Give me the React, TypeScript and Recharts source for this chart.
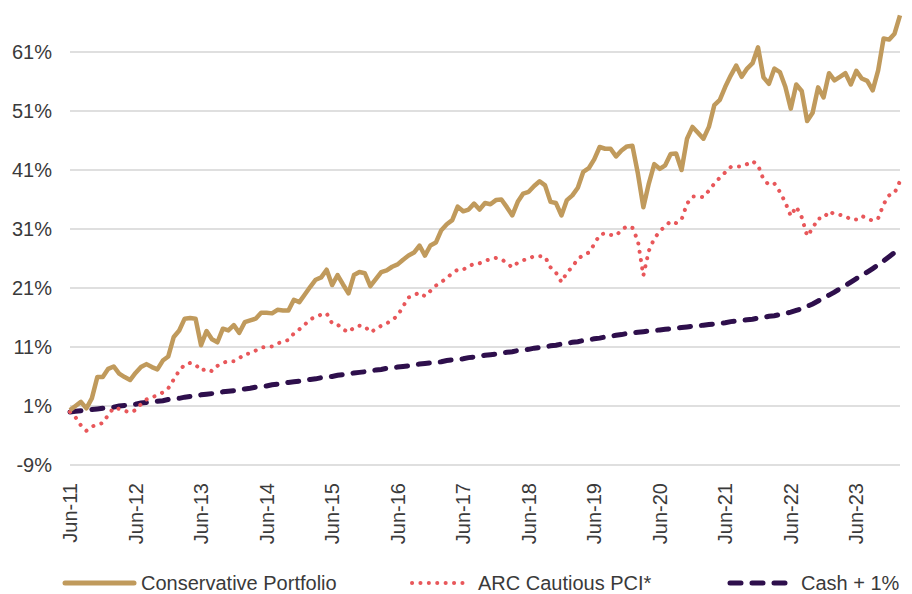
import { LineChart, Line, XAxis, YAxis, CartesianGrid } from 'recharts';

const monthNames = ['Jan', 'Feb', 'Mar', 'Apr', 'May', 'Jun', 'Jul', 'Aug', 'Sep', 'Oct', 'Nov', 'Dec'];

// monthly, Jun-11 .. Feb-24
const conservative = [
  0.3, 1.0, 1.7, 0.6, 2.3, 5.9, 5.9, 7.3, 7.7, 6.5, 5.9, 5.4,
  6.6, 7.6, 8.1, 7.6, 7.2, 8.7, 9.4, 12.7, 13.8, 15.8, 15.9, 15.8,
  11.3, 13.7, 12.3, 11.8, 14.1, 13.8, 14.7, 13.4, 15.2, 15.5, 15.8, 16.8,
  16.8, 16.7, 17.3, 17.2, 17.2, 19.0, 18.6, 19.9, 21.2, 22.4, 22.8, 24.1,
  21.5, 23.2, 21.6, 20.1, 23.2, 23.7, 23.5, 21.3, 22.5, 23.7, 24.0, 24.6,
  25.0, 25.8, 26.5, 27.0, 28.2, 26.5, 28.2, 28.7, 30.8, 31.8, 32.5, 34.8,
  34.0, 34.3, 35.3, 34.3, 35.4, 35.2, 35.9, 36.0, 34.7, 33.3, 35.6, 37.0,
  37.3, 38.3, 39.1, 38.4, 35.6, 35.4, 33.3, 35.9, 36.7, 38.0, 40.7, 41.3,
  42.8, 44.9, 44.6, 44.6, 43.3, 44.3, 45.0, 45.1, 40.4, 34.7, 38.7, 42.0,
  41.2, 41.8, 43.7, 43.8, 41.0, 46.3, 48.3, 47.3, 46.3, 48.3, 52.0, 52.9,
  55.1, 57.0, 58.7, 56.8, 58.2, 59.1, 61.8, 56.7, 55.6, 58.2, 57.6, 55.1,
  51.4, 55.5, 54.4, 49.3, 50.7, 55.0, 53.3, 57.4, 56.2, 56.8, 57.4, 55.5,
  57.8, 56.5, 56.1, 54.5, 57.9, 63.3, 63.1, 64.1, 67.2,
];

const arcCautious = [
  0.0, -0.9, -2.3, -3.2, -2.5, -2.1, -1.9, -0.5, 0.7, 0.5, 0.2, -0.1,
  0.3, 1.3, 2.1, 2.5, 2.8, 3.3, 4.0, 5.5, 7.0, 8.0, 8.3, 8.0,
  7.0, 7.3, 6.9, 7.8, 8.3, 8.6, 8.6, 9.1, 9.8, 9.9, 10.4, 10.9,
  11.0, 11.1, 11.6, 11.9, 12.2, 13.3, 14.0, 14.8, 15.7, 16.1, 16.5, 16.7,
  15.0, 14.8, 14.0, 13.5, 14.3, 14.6, 14.5, 13.5, 14.0, 14.6, 15.0, 15.6,
  16.3, 17.9, 19.4, 19.8, 20.2, 19.6, 20.5, 21.4, 22.0, 22.7, 23.5, 24.1,
  24.1, 24.7, 25.1, 25.2, 25.6, 25.9, 26.1, 25.9, 25.2, 24.5, 25.3, 25.7,
  26.0, 26.4, 26.4, 26.3, 24.5, 23.6, 22.0, 23.6, 24.6, 25.9, 26.6, 27.0,
  28.4, 30.0, 30.3, 30.0, 29.9, 30.8, 31.5, 31.2, 29.0, 23.1, 27.3, 29.4,
  30.6, 31.5, 32.3, 32.0, 32.6, 35.3, 36.5, 36.5, 36.4, 37.5, 38.7, 39.7,
  40.6, 41.5, 41.6, 41.6, 42.0, 42.5, 41.8, 39.4, 38.5, 38.7, 37.3, 35.5,
  33.2, 34.8, 33.0, 29.8, 31.1, 32.8, 32.8, 34.0, 33.5, 33.4, 33.2, 32.6,
  32.6, 33.2, 32.8, 32.4, 32.8, 35.2, 36.7, 37.1, 39.1,
];

const cashPlus1 = [
  0.0, 0.1, 0.2, 0.3, 0.4, 0.5, 0.6, 0.7, 0.8, 1.0, 1.1, 1.2,
  1.3, 1.5, 1.6, 1.7, 1.8, 1.9, 2.1, 2.2, 2.3, 2.5, 2.6, 2.7,
  2.9, 3.0, 3.1, 3.2, 3.4, 3.5, 3.6, 3.8, 3.9, 4.0, 4.2, 4.3,
  4.4, 4.6, 4.7, 4.8, 5.0, 5.1, 5.2, 5.4, 5.5, 5.6, 5.8, 5.9,
  6.0, 6.2, 6.3, 6.4, 6.6, 6.7, 6.8, 7.0, 7.1, 7.2, 7.4, 7.5,
  7.6, 7.7, 7.8, 8.0, 8.1, 8.2, 8.3, 8.4, 8.5, 8.7, 8.8, 8.9,
  9.0, 9.2, 9.3, 9.4, 9.6, 9.7, 9.8, 10.0, 10.1, 10.2, 10.4, 10.5,
  10.6, 10.8, 10.9, 11.0, 11.2, 11.3, 11.5, 11.6, 11.8, 11.9, 12.1, 12.2,
  12.4, 12.5, 12.7, 12.8, 13.0, 13.1, 13.3, 13.4, 13.5, 13.6, 13.7, 13.8,
  13.9, 14.0, 14.1, 14.2, 14.3, 14.4, 14.5, 14.6, 14.7, 14.8, 14.9, 15.0,
  15.1, 15.3, 15.4, 15.5, 15.6, 15.7, 15.9, 16.0, 16.2, 16.3, 16.5, 16.7,
  16.9, 17.2, 17.5, 17.9, 18.3, 18.8, 19.3, 19.8, 20.3, 20.9, 21.4, 22.0,
  22.6, 23.1, 23.7, 24.3, 24.9, 25.6, 26.3, 27.0, 27.8,
];

const yTicks = [-9, 1, 11, 21, 31, 41, 51, 61];

const months = conservative.map((_, i) => {
  const m = (5 + i) % 12;
  const yy = 11 + Math.floor((5 + i) / 12);
  return `${monthNames[m]}-${yy}`;
});

const data = months.map((month, i) => ({
  month,
  conservative: conservative[i],
  arc: arcCautious[i],
  cash: cashPlus1[i],
}));

const GOLD = '#c09a5c';
const RED = '#e8575a';
const PURPLE = '#2e0f4c';
const TEXT = '#3a3a3a';
const FONT = '"Liberation Sans", Arial, sans-serif';
const FS = 20;

const XTick = ({ x, y, payload }: any) => (
  <text
    x={x}
    y={y}
    transform={`rotate(-90, ${x}, ${y})`}
    textAnchor="end"
    dominantBaseline="central"
    fill={TEXT}
    fontSize={FS}
    fontFamily={FONT}
  >
    {payload.value}
  </text>
);

export default function App() {
  return (
    <div style={{ position: 'absolute', left: 0, top: 0, width: 912, height: 594, overflow: 'hidden', background: '#fff' }}>
      <div style={{ position: 'absolute', left: 0, top: -20 }}>
        <LineChart width={912} height={575} data={data} margin={{ top: 13, right: 12, left: 0, bottom: 0 }}>
          <CartesianGrid vertical={false} stroke="#bfbfbf" strokeWidth={1.2} />
          <XAxis
            dataKey="month"
            interval={11}
            axisLine={false}
            tickLine={false}
            tickSize={0}
            tickMargin={18}
            height={90}
            tick={<XTick />}
          />
          <YAxis
            domain={[-9, 71]}
            ticks={yTicks}
            allowDataOverflow
            axisLine={false}
            tickLine={false}
            tickSize={0}
            tickMargin={18}
            width={70}
            tickFormatter={(v: number) => `${v}%`}
            tick={{ fill: TEXT, fontSize: FS, fontFamily: FONT }}
          />
          <Line
            type="linear"
            dataKey="cash"
            stroke={PURPLE}
            strokeWidth={5}
            strokeDasharray="11 11"
            strokeLinecap="round"
            dot={false}
            isAnimationActive={false}
          />
          <Line
            type="linear"
            dataKey="arc"
            stroke={RED}
            strokeWidth={4}
            strokeDasharray="0.1 8.3"
            strokeLinecap="round"
            dot={false}
            isAnimationActive={false}
          />
          <Line
            type="linear"
            dataKey="conservative"
            stroke={GOLD}
            strokeWidth={4.5}
            strokeLinejoin="round"
            dot={false}
            isAnimationActive={false}
          />
        </LineChart>
      </div>
      <svg width={912} height={40} style={{ position: 'absolute', left: 0, top: 563 }} fontFamily={FONT}>
        <line x1={65} x2={134} y1={20} y2={20} stroke={GOLD} strokeWidth={5} strokeLinecap="round" />
        <text x={141} y={20} dominantBaseline="central" fontSize={FS} fill={TEXT}>Conservative Portfolio</text>
        <line x1={412} x2={468} y1={20} y2={20} stroke={RED} strokeWidth={4} strokeDasharray="0.1 8.3" strokeLinecap="round" />
        <text x={478} y={20} dominantBaseline="central" fontSize={FS} fill={TEXT}>ARC Cautious PCI*</text>
        <line x1={730} x2={796} y1={20} y2={20} stroke={PURPLE} strokeWidth={5} strokeDasharray="11 11" strokeLinecap="round" />
        <text x={801} y={20} dominantBaseline="central" fontSize={FS} fill={TEXT}>Cash + 1%</text>
      </svg>
    </div>
  );
}
